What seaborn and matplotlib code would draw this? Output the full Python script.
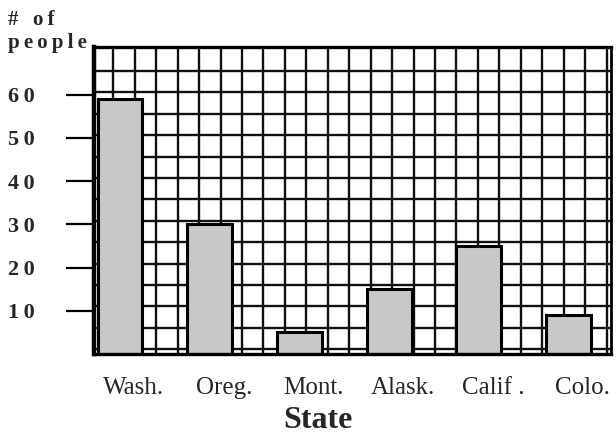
import numpy as np
import pandas as pd
import matplotlib
matplotlib.use("Agg")
import matplotlib.pyplot as plt
import matplotlib.transforms as mtransforms
import seaborn as sns

# ---- data ----
states = ["Wash.", "Oreg.", "Mont.", "Alask.", "Calif .", "Colo."]
people = [59, 30, 5, 15, 25, 9]
y_ticks = [10, 20, 30, 40, 50, 60]
x_label = "State"
y_label_lines = ["#", "of", "people"]

df = pd.DataFrame({"state": states, "people": people})

sns.set_style("white")
SERIF = ["Liberation Serif", "DejaVu Serif"]
plt.rcParams["font.family"] = SERIF

THIN = "\u2009"


def spaced(word):
    return THIN.join(word)


fig = plt.figure(figsize=(6.16, 4.34), dpi=100)
ax = fig.add_axes([94 / 616, 1 - 354 / 434, (610.7 - 94) / 616, (354 - 47) / 434])

# grid paper
for yv in np.arange(1.1, 70, 4.95):
    ax.axhline(yv, color="#111111", lw=1.7, zorder=1)
for xv in -0.0747 + 0.2391 * np.arange(24):
    ax.axvline(xv, color="#111111", lw=1.7, zorder=1)

sns.barplot(data=df, x="state", y="people", color="#c8c8c8", saturation=1,
            edgecolor="black", linewidth=2.2, width=0.5, zorder=3, ax=ax)

ax.set_xlim(-0.29, 5.47)
ax.set_ylim(0, 71)

for side, lw in [("left", 3.2), ("top", 2.4), ("right", 2.0), ("bottom", 2.4)]:
    ax.spines[side].set_visible(True)
    ax.spines[side].set_linewidth(lw)
    ax.spines[side].set_color("black")
    ax.spines[side].set_zorder(4)

ax.set_yticks(y_ticks)
ax.set_yticklabels([spaced(str(v)) for v in y_ticks],
                   fontsize=16, fontweight="bold", family=SERIF)
ax.tick_params(axis="y", direction="out", length=20, width=1.6, pad=23,
               left=True, color="black")
ax.tick_params(axis="x", length=0, pad=16.5, labelsize=18)
for lab in ax.get_xticklabels():
    lab.set_transform(lab.get_transform() +
                      mtransforms.ScaledTranslation(0.14, 0, fig.dpi_scale_trans))

ax.set_xlabel(x_label, fontsize=23, fontweight="bold", family=SERIF)
ax.xaxis.set_label_coords(0.4335, -0.168)
ax.xaxis.label.set_va("top")

ylab = (y_label_lines[0] + "  " + THIN + spaced(y_label_lines[1]) + "\n"
        + spaced(y_label_lines[2]))
ax.set_ylabel(ylab, rotation=0, fontsize=15, fontweight="bold", family=SERIF,
              ha="left", va="bottom", linespacing=1.2)
ax.yaxis.set_label_coords(-0.167, 0.98)

fig.savefig("out.png", dpi=100)
